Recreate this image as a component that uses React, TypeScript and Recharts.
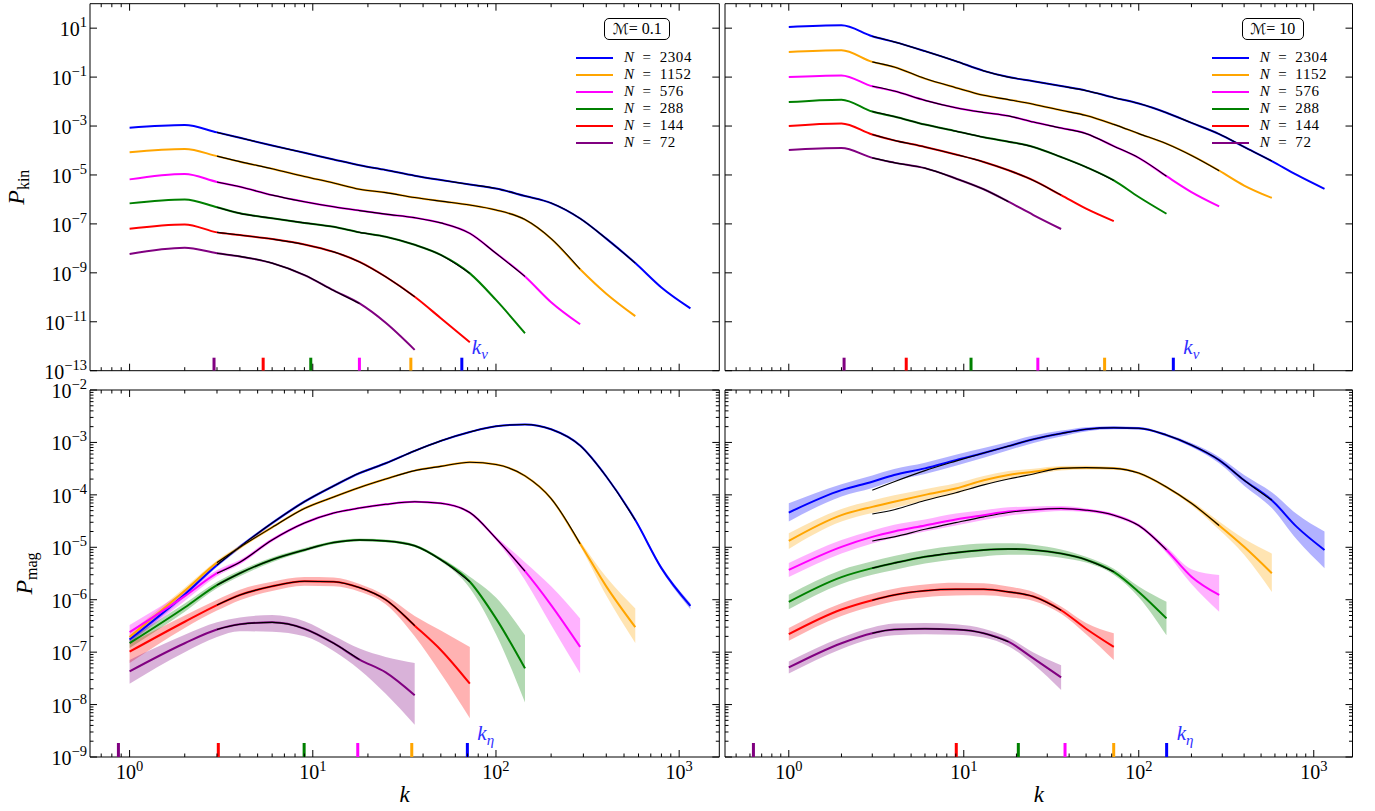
import React from 'react';
import { ComposedChart, Line, Area, Scatter, XAxis, YAxis, Legend } from 'recharts';

const FONT = '"Liberation Serif", "Times New Roman", "DejaVu Serif", serif';

// wavenumber grid
const K = [1, 2, 3, 4, 6, 9, 13, 18, 25, 36, 50, 72, 100, 144, 200, 288, 400, 576, 800, 1152];
const N_RES = [2304, 1152, 576, 288, 144, 72];
const COLORS = ['#0000ff', '#ffa500', '#ff00ff', '#008000', '#ff0000', '#800080'];
const MARKER_COLORS = ['#800080', '#ff0000', '#008000', '#ff00ff', '#ffa500', '#0000ff'];

const X_TICKS_LEFT = [0.7, 0.8, 0.9, 1, 2, 3, 4, 5, 6, 7, 8, 9, 10, 20, 30, 40, 50, 60, 70, 80, 90, 100, 200, 300, 400, 500, 600, 700, 800, 900, 1000];
const X_TICKS_RIGHT = [0.5, 0.6, 0.7, 0.8, 0.9, 1, 2, 3, 4, 5, 6, 7, 8, 9, 10, 20, 30, 40, 50, 60, 70, 80, 90, 100, 200, 300, 400, 500, 600, 700, 800, 900, 1000];
const Y_TICKS_KIN = [1e-13, 1e-11, 1e-9, 1e-7, 1e-5, 1e-3, 1e-1, 10];
const Y_TICKS_MAG = [
  1e-9, 2e-9, 3e-9, 4e-9, 5e-9, 6e-9, 7e-9, 8e-9, 9e-9,
  1e-8, 2e-8, 3e-8, 4e-8, 5e-8, 6e-8, 7e-8, 8e-8, 9e-8,
  1e-7, 2e-7, 3e-7, 4e-7, 5e-7, 6e-7, 7e-7, 8e-7, 9e-7,
  1e-6, 2e-6, 3e-6, 4e-6, 5e-6, 6e-6, 7e-6, 8e-6, 9e-6,
  1e-5, 2e-5, 3e-5, 4e-5, 5e-5, 6e-5, 7e-5, 8e-5, 9e-5,
  1e-4, 2e-4, 3e-4, 4e-4, 5e-4, 6e-4, 7e-4, 8e-4, 9e-4,
  1e-3, 2e-3, 3e-3, 4e-3, 5e-3, 6e-3, 7e-3, 8e-3, 9e-3,
  1e-2,
];

const X_DOMAIN_LEFT: [number, number] = [0.608, 1656];
const X_DOMAIN_RIGHT: [number, number] = [0.432, 1665];
const Y_DOMAIN_KIN: [number, number] = [1e-13, 100];
const Y_DOMAIN_MAG: [number, number] = [1e-9, 1e-2];

// characteristic scales (N = 72 ... 2304)
const K_NU_M01 = [2.89, 5.36, 9.75, 17.97, 34.3, 65.1];
const K_NU_M10 = [2.07, 4.69, 11.0, 26.5, 63.8, 157.6];
const K_ETA_M01 = [0.869, 3.05, 8.97, 17.6, 34.7, 69.8];
const K_ETA_M10 = [0.628, 9.06, 20.5, 37.9, 71.9, 144.3];

// ---- P_kin, M = 0.1
const KIN_M01_N2304 = [8.5e-4, 1.1e-3, 5.5e-4, 3.3e-4, 1.6e-4, 8.1e-5, 4.3e-5, 2.5e-5, 1.6e-5, 9.3e-6, 6.2e-6, 4.1e-6, 2.8e-6, 1.38e-6, 7.1e-7, 1.66e-7, 2.5e-8, 2.5e-9, 2.5e-10, 3.5e-11];
const KIN_M01_N1152 = [8.5e-5, 1.15e-4, 5.9e-5, 3.5e-5, 1.8e-5, 8.7e-6, 4.7e-6, 2.6e-6, 1.9e-6, 1.2e-6, 8.5e-7, 5.9e-7, 3.7e-7, 1.5e-7, 2.5e-8, 1.4e-9, 1.4e-10, 1.7e-11];
const KIN_M01_N576 = [6.6e-6, 1.1e-5, 5.2e-6, 3.3e-6, 1.5e-6, 8.1e-7, 5.0e-7, 3.5e-7, 2.5e-7, 1.8e-7, 1.1e-7, 4.1e-8, 6.3e-9, 7.1e-10, 6.3e-11, 7.9e-12];
const KIN_M01_N288 = [6.9e-7, 1.0e-6, 4.8e-7, 2.7e-7, 1.7e-7, 1.1e-7, 7.6e-8, 4.5e-8, 3.0e-8, 1.4e-8, 5.4e-9, 9.5e-10, 7.8e-11, 3.4e-12];
const KIN_M01_N144 = [6.3e-8, 9.5e-8, 4.5e-8, 3.5e-8, 2.4e-8, 1.45e-8, 7.2e-9, 2.8e-9, 6.9e-10, 1.05e-10, 1.4e-11, 1.45e-12];
const KIN_M01_N72 = [5.9e-9, 1.07e-8, 6.3e-9, 4.7e-9, 2.5e-9, 8.1e-10, 1.9e-10, 5.6e-11, 9.1e-12, 7.1e-13];

// ---- P_kin, M = 10
const KIN_M10_N2304 = [11.2, 13.2, 4.7, 2.75, 1.15, 0.45, 0.18, 0.1, 0.068, 0.043, 0.028, 0.0145, 0.0083, 0.0035, 0.00135, 4.7e-4, 1.4e-4, 3.7e-5, 1.0e-5, 2.7e-6];
const KIN_M10_N1152 = [1.07, 1.26, 0.42, 0.26, 0.087, 0.037, 0.018, 0.012, 0.0078, 0.0044, 0.0027, 0.00117, 4.9e-4, 1.9e-4, 6.3e-5, 1.5e-5, 3.7e-6, 1.15e-6];
const KIN_M10_N576 = [0.1, 0.117, 0.042, 0.027, 0.0112, 0.0056, 0.0036, 0.0026, 0.00145, 8.3e-4, 4.9e-4, 1.5e-4, 5.0e-5, 8.9e-6, 2.0e-6, 5.2e-7];
const KIN_M10_N288 = [0.0095, 0.012, 0.0039, 0.00245, 0.00115, 6.2e-4, 3.5e-4, 2.3e-4, 1.4e-4, 5.4e-5, 2.1e-5, 6.0e-6, 1.26e-6, 2.6e-7];
const KIN_M10_N144 = [1.0e-3, 1.26e-3, 4.5e-4, 2.6e-4, 1.4e-4, 6.9e-5, 3.4e-5, 1.55e-5, 6.0e-6, 1.5e-6, 4.2e-7, 1.3e-7];
const KIN_M10_N72 = [1.05e-4, 1.26e-4, 5.0e-5, 3.2e-5, 1.9e-5, 7.2e-6, 2.6e-6, 8.1e-7, 2.3e-7, 6.2e-8];

// ---- P_mag, M = 0.1 (mean, lower, upper)
const MAG_M01_N2304 = [1.74e-7, 1.26e-6, 4.6e-6, 1.02e-5, 2.9e-5, 7.4e-5, 1.48e-4, 2.6e-4, 4.0e-4, 6.9e-4, 1.07e-3, 1.58e-3, 2.04e-3, 2.2e-3, 1.78e-3, 8.7e-4, 2.24e-4, 3.3e-5, 4.0e-6, 7.6e-7];
const MAG_M01_N2304_LO = [1.5e-7, 1.13e-6, 4.2e-6, 9.4e-6, 2.7e-5, 6.9e-5, 1.39e-4, 2.45e-4, 3.8e-4, 6.6e-4, 1.03e-3, 1.52e-3, 1.97e-3, 2.13e-3, 1.72e-3, 8.4e-4, 2.15e-4, 3.1e-5, 3.7e-6, 6.6e-7];
const MAG_M01_N2304_HI = [2.0e-7, 1.4e-6, 5.0e-6, 1.1e-5, 3.1e-5, 7.9e-5, 1.58e-4, 2.75e-4, 4.2e-4, 7.2e-4, 1.11e-3, 1.64e-3, 2.11e-3, 2.27e-3, 1.84e-3, 9.0e-4, 2.33e-4, 3.5e-5, 4.4e-6, 8.6e-7];
const MAG_M01_N1152 = [1.95e-7, 1.48e-6, 5.1e-6, 1.0e-5, 2.4e-5, 5.5e-5, 9.1e-5, 1.38e-4, 2.0e-4, 2.9e-4, 3.5e-4, 4.2e-4, 3.8e-4, 2.3e-4, 8.5e-5, 1.17e-5, 1.8e-6, 3.0e-7];
const MAG_M01_N1152_LO = [1.6e-7, 1.3e-6, 4.6e-6, 9.2e-6, 2.25e-5, 5.2e-5, 8.7e-5, 1.32e-4, 1.92e-4, 2.8e-4, 3.4e-4, 4.08e-4, 3.7e-4, 2.22e-4, 8.1e-5, 1.06e-5, 1.2e-6, 1.5e-7];
const MAG_M01_N1152_HI = [2.35e-7, 1.7e-6, 5.6e-6, 1.09e-5, 2.55e-5, 5.8e-5, 9.5e-5, 1.44e-4, 2.08e-4, 3.0e-4, 3.6e-4, 4.32e-4, 3.9e-4, 2.38e-4, 8.9e-5, 1.3e-5, 2.7e-6, 6.8e-7];
const MAG_M01_N576 = [2.4e-7, 1.17e-6, 3.2e-6, 5.2e-6, 1.38e-5, 2.9e-5, 4.5e-5, 5.6e-5, 6.6e-5, 7.4e-5, 6.9e-5, 4.6e-5, 1.48e-5, 3.5e-6, 7.9e-7, 1.26e-7];
const MAG_M01_N576_LO = [1.48e-7, 9.5e-7, 2.8e-6, 4.7e-6, 1.28e-5, 2.75e-5, 4.3e-5, 5.35e-5, 6.3e-5, 7.1e-5, 6.6e-5, 4.4e-5, 1.38e-5, 2.35e-6, 3.3e-7, 3.9e-8];
const MAG_M01_N576_HI = [3.3e-7, 1.45e-6, 3.7e-6, 5.8e-6, 1.49e-5, 3.05e-5, 4.7e-5, 5.85e-5, 6.9e-5, 7.7e-5, 7.2e-5, 4.8e-5, 1.6e-5, 5.2e-6, 1.8e-6, 4.4e-7];
const MAG_M01_N288 = [1.48e-7, 7.1e-7, 1.9e-6, 3.2e-6, 5.8e-6, 8.9e-6, 1.23e-5, 1.38e-5, 1.32e-5, 1.07e-5, 5.8e-6, 2.2e-6, 4.4e-7, 4.9e-8];
const MAG_M01_N288_LO = [1.2e-7, 5.9e-7, 1.65e-6, 2.8e-6, 5.2e-6, 8.2e-6, 1.15e-5, 1.3e-5, 1.25e-5, 1.01e-5, 5.4e-6, 1.66e-6, 2.2e-7, 1.1e-8];
const MAG_M01_N288_HI = [1.8e-7, 8.5e-7, 2.2e-6, 3.6e-6, 6.4e-6, 9.7e-6, 1.32e-5, 1.47e-5, 1.4e-5, 1.13e-5, 6.3e-6, 2.75e-6, 1.1e-6, 2.1e-7];
const MAG_M01_N144 = [1.02e-7, 3.8e-7, 7.9e-7, 1.23e-6, 1.8e-6, 2.25e-6, 2.2e-6, 1.7e-6, 1.0e-6, 3.2e-7, 1.1e-7, 2.5e-8];
const MAG_M01_N144_LO = [6.2e-8, 2.9e-7, 6.2e-7, 9.8e-7, 1.47e-6, 1.85e-6, 1.8e-6, 1.42e-6, 8.2e-7, 2.0e-7, 3.9e-8, 5.5e-9];
const MAG_M01_N144_HI = [1.48e-7, 5.0e-7, 1.0e-6, 1.55e-6, 2.2e-6, 2.7e-6, 2.65e-6, 2.0e-6, 1.2e-6, 4.9e-7, 2.6e-7, 1.26e-7];
const MAG_M01_N72 = [4.3e-8, 1.48e-7, 2.7e-7, 3.4e-7, 3.7e-7, 2.8e-7, 1.48e-7, 7.2e-8, 4.1e-8, 1.5e-8];
const MAG_M01_N72_LO = [2.5e-8, 1.0e-7, 1.95e-7, 2.5e-7, 2.45e-7, 2.0e-7, 1.05e-7, 4.6e-8, 1.6e-8, 4.1e-9];
const MAG_M01_N72_HI = [7.1e-8, 2.15e-7, 3.7e-7, 4.6e-7, 5.1e-7, 3.9e-7, 2.05e-7, 1.17e-7, 8.1e-8, 6.2e-8];

// ---- P_mag, M = 10 (mean, lower, upper)
const MAG_M10_N2304 = [4.6e-5, 1.23e-4, 1.78e-4, 2.4e-4, 3.2e-4, 4.6e-4, 6.3e-4, 8.5e-4, 1.15e-3, 1.48e-3, 1.78e-3, 1.9e-3, 1.86e-3, 1.38e-3, 8.9e-4, 4.6e-4, 1.9e-4, 7.9e-5, 2.45e-5, 8.9e-6];
const MAG_M10_N2304_LO = [3.1e-5, 9.3e-5, 1.35e-4, 1.85e-4, 2.5e-4, 3.6e-4, 5.1e-4, 7.1e-4, 9.8e-4, 1.3e-3, 1.62e-3, 1.78e-3, 1.76e-3, 1.3e-3, 8.2e-4, 4.0e-4, 1.5e-4, 5.6e-5, 1.4e-5, 4.0e-6];
const MAG_M10_N2304_HI = [6.9e-5, 1.6e-4, 2.35e-4, 3.1e-4, 4.1e-4, 5.8e-4, 7.8e-4, 1.02e-3, 1.35e-3, 1.68e-3, 1.95e-3, 2.03e-3, 1.97e-3, 1.46e-3, 9.7e-4, 5.3e-4, 2.4e-4, 1.12e-4, 4.3e-5, 2.0e-5];
const MAG_M10_N1152 = [1.32e-5, 4.1e-5, 5.9e-5, 7.4e-5, 1.0e-4, 1.32e-4, 1.9e-4, 2.4e-4, 2.75e-4, 3.2e-4, 3.3e-4, 3.2e-4, 2.6e-4, 1.41e-4, 6.9e-5, 2.6e-5, 1.02e-5, 3.2e-6];
const MAG_M10_N1152_LO = [9.3e-6, 3.1e-5, 4.5e-5, 5.6e-5, 7.8e-5, 1.05e-4, 1.55e-4, 2.0e-4, 2.4e-4, 2.9e-4, 3.05e-4, 3.0e-4, 2.45e-4, 1.32e-4, 6.3e-5, 2.15e-5, 7.2e-6, 1.4e-6];
const MAG_M10_N1152_HI = [1.86e-5, 5.4e-5, 7.8e-5, 9.8e-5, 1.28e-4, 1.66e-4, 2.3e-4, 2.85e-4, 3.15e-4, 3.55e-4, 3.6e-4, 3.4e-4, 2.75e-4, 1.5e-4, 7.6e-5, 3.1e-5, 1.45e-5, 7.6e-6];
const MAG_M10_N576 = [3.7e-6, 1.02e-5, 1.58e-5, 2.0e-5, 2.6e-5, 3.4e-5, 4.1e-5, 4.8e-5, 5.2e-5, 5.5e-5, 5.1e-5, 4.1e-5, 2.6e-5, 8.9e-6, 2.75e-6, 1.23e-6];
const MAG_M10_N576_LO = [2.7e-6, 7.6e-6, 1.18e-5, 1.5e-5, 2.0e-5, 2.6e-5, 3.3e-5, 4.0e-5, 4.5e-5, 4.9e-5, 4.7e-5, 3.8e-5, 2.4e-5, 7.8e-6, 2.0e-6, 5.9e-7];
const MAG_M10_N576_HI = [5.0e-6, 1.38e-5, 2.1e-5, 2.7e-5, 3.4e-5, 4.4e-5, 5.1e-5, 5.8e-5, 6.0e-5, 6.1e-5, 5.5e-5, 4.4e-5, 2.8e-5, 1.02e-5, 3.8e-6, 2.95e-6];
const MAG_M10_N288 = [9.1e-7, 2.7e-6, 4.0e-6, 5.0e-6, 6.6e-6, 7.9e-6, 8.9e-6, 9.3e-6, 8.9e-6, 7.6e-6, 5.8e-6, 3.4e-6, 1.41e-6, 4.4e-7];
const MAG_M10_N288_LO = [6.6e-7, 2.0e-6, 3.0e-6, 3.7e-6, 4.9e-6, 5.9e-6, 6.7e-6, 7.2e-6, 7.1e-6, 6.3e-6, 5.1e-6, 3.0e-6, 1.12e-6, 2.1e-7];
const MAG_M10_N288_HI = [1.25e-6, 3.7e-6, 5.4e-6, 6.8e-6, 8.9e-6, 1.07e-5, 1.18e-5, 1.2e-5, 1.12e-5, 9.1e-6, 6.6e-6, 3.9e-6, 1.78e-6, 9.1e-7];
const MAG_M10_N144 = [2.2e-7, 6.5e-7, 9.8e-7, 1.23e-6, 1.48e-6, 1.58e-6, 1.58e-6, 1.41e-6, 1.15e-6, 6.3e-7, 2.8e-7, 1.26e-7];
const MAG_M10_N144_LO = [1.65e-7, 4.9e-7, 7.4e-7, 9.3e-7, 1.12e-6, 1.2e-6, 1.22e-6, 1.12e-6, 9.5e-7, 5.4e-7, 2.2e-7, 7.1e-8];
const MAG_M10_N144_HI = [2.9e-7, 8.6e-7, 1.3e-6, 1.62e-6, 1.95e-6, 2.1e-6, 2.05e-6, 1.78e-6, 1.4e-6, 7.4e-7, 3.6e-7, 2.3e-7];
const MAG_M10_N72 = [5.1e-8, 1.48e-7, 2.3e-7, 2.7e-7, 2.8e-7, 2.7e-7, 2.3e-7, 1.58e-7, 7.6e-8, 3.3e-8];
const MAG_M10_N72_LO = [3.9e-8, 1.15e-7, 1.8e-7, 2.1e-7, 2.2e-7, 2.15e-7, 1.9e-7, 1.3e-7, 5.9e-8, 1.9e-8];
const MAG_M10_N72_HI = [6.6e-8, 1.9e-7, 2.95e-7, 3.5e-7, 3.6e-7, 3.4e-7, 2.8e-7, 1.9e-7, 9.8e-8, 5.6e-8];

// fitted model curves for M = 10 (start at k = 3)
const FIT_M10_N2304 = [1.23e-4, 1.78e-4, 2.9e-4, 4.4e-4, 6.3e-4, 8.5e-4, 1.15e-3, 1.48e-3, 1.78e-3, 1.9e-3, 1.86e-3, 1.38e-3, 8.9e-4, 4.6e-4, 1.9e-4, 7.9e-5];
const FIT_M10_N1152 = [4.3e-5, 5.2e-5, 7.8e-5, 1.1e-4, 1.55e-4, 2.0e-4, 2.5e-4, 3.2e-4, 3.3e-4, 3.2e-4, 2.6e-4, 1.41e-4, 6.9e-5, 2.6e-5];
const FIT_M10_N576 = [1.32e-5, 1.58e-5, 2.2e-5, 2.95e-5, 3.8e-5, 4.6e-5, 5.2e-5, 5.5e-5, 5.1e-5, 4.1e-5, 2.6e-5, 8.9e-6];

type Pt = { k: number; p: number };
const pts = (vals: number[]): Pt[] => vals.map((p, i) => ({ k: K[i], p }));
const fitFromData = (vals: number[], n: number): Pt[] => pts(vals).filter((d) => d.k >= 3 && d.k <= n / 4);
const fitFromK3 = (vals: number[]): Pt[] => vals.map((p, i) => ({ k: K[i + 2], p }));
const bandPts = (lo: number[], hi: number[]) => lo.map((l, i) => ({ k: K[i], r: [l, hi[i]] }));

function makeTick(side: 'bottom' | 'top' | 'left' | 'right', labeled: boolean) {
  return (props: any) => {
    const { x, y, payload } = props;
    const v = payload.value;
    const lg = Math.log10(v);
    const major = Math.abs(lg - Math.round(lg)) < 1e-6;
    const len = major ? 7 : 3.5;
    let x2 = x;
    let y2 = y;
    if (side === 'bottom') y2 = y - len;
    else if (side === 'top') y2 = y + len;
    else if (side === 'left') x2 = x + len;
    else x2 = x - len;
    const e = Math.round(lg);
    const es = e < 0 ? '\u2212' + Math.abs(e) : String(e);
    return (
      <g>
        <line x1={x} y1={y} x2={x2} y2={y2} stroke="#000" strokeWidth={1} />
        {labeled && major && side === 'bottom' && (
          <text x={x} y={y + 22} textAnchor="middle" fontFamily={FONT} fontSize={20} fill="#000">
            10<tspan dy={-8.5} fontSize={14.5}>{es}</tspan>
          </text>
        )}
        {labeled && major && side === 'left' && (
          <text x={x - 3} y={y + 8} textAnchor="end" fontFamily={FONT} fontSize={20} fill="#000">
            10<tspan dy={-9} fontSize={14.5}>{es}</tspan>
          </text>
        )}
      </g>
    );
  };
}

const LegendBox = ({ title, boxLeft, boxWidth }: { title: string; boxLeft: number; boxWidth: number }) => (
  <div style={{ position: 'relative', width: 150, height: 140, fontFamily: FONT, color: '#000', fontWeight: 400 }}>
    <div
      style={{
        position: 'absolute', left: boxLeft, top: 0, width: boxWidth, height: 22, boxSizing: 'border-box',
        border: '1px solid #000', borderRadius: 5, display: 'flex', alignItems: 'center', justifyContent: 'center',
        fontSize: 16, lineHeight: '18px', whiteSpace: 'nowrap',
      }}
    >
      <span style={{ fontFamily: '"DejaVu Serif", "DejaVu Sans", serif', fontStyle: 'italic', fontSize: 15 }}>{'\u2133'}</span>
      <span>=&nbsp;{title}</span>
    </div>
    {N_RES.map((n, i) => (
      <div key={n} style={{ position: 'absolute', left: 0, top: 32 + i * 17, height: 15, display: 'flex', alignItems: 'center' }}>
        <span style={{ display: 'inline-block', width: 37, height: 2.5, background: COLORS[i] }} />
        <span style={{ marginLeft: 11, fontSize: 15, lineHeight: '15px', whiteSpace: 'nowrap', fontWeight: 400, letterSpacing: 0.6 }}>
          <i>N</i>
          <span style={{ margin: '0 8px' }}>=</span>
          {n}
        </span>
      </div>
    ))}
  </div>
);

type PanelProps = {
  left: number; top: number; width: number; height: number;
  margin: { top: number; right: number; bottom: number; left: number };
  yAxisWidth: number; xAxisHeight: number;
  xDomain: [number, number]; yDomain: [number, number];
  xTicks: number[]; yTicks: number[];
  xLabels: boolean; yLabels: boolean;
  yTitleSub?: string; yTitleX?: number; xTitle?: boolean;
  lines: number[][]; fits: Pt[][]; bands?: { k: number; r: number[] }[][];
  markers: number[]; markerSub: string; markerH: number;
  legend?: { title: string; left: number; top: number; boxLeft: number; boxWidth: number };
};

function Panel(p: PanelProps) {
  const markerData = p.markers.map((k, i) => ({ k, p: p.yDomain[0], c: MARKER_COLORS[i], lbl: i === p.markers.length - 1 }));
  const markerShape = (props: any) => {
    const { cx, cy, payload } = props;
    return (
      <g>
        <rect x={cx - 1.5} y={cy - p.markerH} width={3} height={p.markerH} fill={payload.c} />
        {payload.lbl && (
          <text x={cx + 10} y={cy - 17} fill="#2f2fff" fontFamily={FONT} fontStyle="italic" fontSize={21}>
            k<tspan dy={5} fontSize={15}>{p.markerSub}</tspan>
          </text>
        )}
      </g>
    );
  };
  const yTitle = (props: any) => {
    const vb = props.viewBox;
    const cx = vb.x + (p.yTitleX || 20);
    const cy = vb.y + vb.height / 2;
    return (
      <text transform={`rotate(-90, ${cx}, ${cy})`} x={cx} y={cy} textAnchor="middle" fontFamily={FONT} fill="#000">
        <tspan fontStyle="italic" fontSize={24}>P</tspan>
        <tspan dy={5} fontSize={16}>{p.yTitleSub}</tspan>
      </text>
    );
  };
  const xTitle = (props: any) => {
    const vb = props.viewBox;
    return (
      <text x={vb.x + vb.width / 2} y={vb.y + 45} textAnchor="middle" fontFamily={FONT} fontStyle="italic" fontSize={23} fill="#000">
        k
      </text>
    );
  };
  const common = { xAxisId: 'b', yAxisId: 'l', isAnimationActive: false } as any;
  return (
    <div style={{ position: 'absolute', left: p.left, top: p.top }}>
      <ComposedChart width={p.width} height={p.height} margin={p.margin}>
        <XAxis
          xAxisId="b" dataKey="k" type="number" scale="log" domain={p.xDomain} allowDataOverflow
          ticks={p.xTicks} interval={0} tickSize={0} tickMargin={0} tickLine={false}
          tick={makeTick('bottom', p.xLabels)} height={p.xAxisHeight} axisLine={{ stroke: '#000' }}
          label={p.xTitle ? xTitle : undefined}
        />
        <XAxis
          xAxisId="t" orientation="top" mirror dataKey="k" type="number" scale="log" domain={p.xDomain} allowDataOverflow
          ticks={p.xTicks} interval={0} tickSize={0} tickMargin={0} tickLine={false}
          tick={makeTick('top', false)} axisLine={{ stroke: '#000' }}
        />
        <YAxis
          yAxisId="l" type="number" scale="log" domain={p.yDomain} allowDataOverflow
          ticks={p.yTicks} interval={0} tickSize={0} tickMargin={0} tickLine={false}
          tick={makeTick('left', p.yLabels)} width={p.yAxisWidth} axisLine={{ stroke: '#000' }}
          label={p.yTitleSub ? yTitle : undefined}
        />
        <YAxis
          yAxisId="r" orientation="right" mirror type="number" scale="log" domain={p.yDomain} allowDataOverflow
          ticks={p.yTicks} interval={0} tickSize={0} tickMargin={0} tickLine={false}
          tick={makeTick('right', false)} axisLine={{ stroke: '#000' }}
        />
        {(p.bands || []).map((b, i) => (
          <Area key={'b' + i} {...common} data={b} dataKey="r" type="monotone" stroke="none" fill={COLORS[i]} fillOpacity={0.3} activeDot={false} />
        ))}
        {p.lines.map((vals, i) => (
          <Line key={'l' + i} {...common} data={pts(vals)} dataKey="p" type="monotone" stroke={COLORS[i]} strokeWidth={2} dot={false} activeDot={false} />
        ))}
        {p.fits.map((f, i) => (
          <Line key={'f' + i} {...common} data={f} dataKey="p" type="monotone" stroke="#000" strokeWidth={1.1} dot={false} activeDot={false} />
        ))}
        <Scatter {...common} data={markerData} dataKey="p" shape={markerShape} />
        {p.legend && (
          <Legend
            layout="vertical" align="center" verticalAlign="middle"
            wrapperStyle={{ left: p.legend.left, top: p.legend.top, width: 150, height: 140 }}
            content={() => <LegendBox title={p.legend!.title} boxLeft={p.legend!.boxLeft} boxWidth={p.legend!.boxWidth} />}
          />
        )}
      </ComposedChart>
    </div>
  );
}

export default function App() {
  const kinM01 = [KIN_M01_N2304, KIN_M01_N1152, KIN_M01_N576, KIN_M01_N288, KIN_M01_N144, KIN_M01_N72];
  const kinM10 = [KIN_M10_N2304, KIN_M10_N1152, KIN_M10_N576, KIN_M10_N288, KIN_M10_N144, KIN_M10_N72];
  const magM01 = [MAG_M01_N2304, MAG_M01_N1152, MAG_M01_N576, MAG_M01_N288, MAG_M01_N144, MAG_M01_N72];
  const magM10 = [MAG_M10_N2304, MAG_M10_N1152, MAG_M10_N576, MAG_M10_N288, MAG_M10_N144, MAG_M10_N72];
  const bandsM01 = [
    bandPts(MAG_M01_N2304_LO, MAG_M01_N2304_HI), bandPts(MAG_M01_N1152_LO, MAG_M01_N1152_HI),
    bandPts(MAG_M01_N576_LO, MAG_M01_N576_HI), bandPts(MAG_M01_N288_LO, MAG_M01_N288_HI),
    bandPts(MAG_M01_N144_LO, MAG_M01_N144_HI), bandPts(MAG_M01_N72_LO, MAG_M01_N72_HI),
  ];
  const bandsM10 = [
    bandPts(MAG_M10_N2304_LO, MAG_M10_N2304_HI), bandPts(MAG_M10_N1152_LO, MAG_M10_N1152_HI),
    bandPts(MAG_M10_N576_LO, MAG_M10_N576_HI), bandPts(MAG_M10_N288_LO, MAG_M10_N288_HI),
    bandPts(MAG_M10_N144_LO, MAG_M10_N144_HI), bandPts(MAG_M10_N72_LO, MAG_M10_N72_HI),
  ];
  const fitsKinM01 = kinM01.map((v, i) => fitFromData(v, N_RES[i]));
  const fitsKinM10 = kinM10.map((v, i) => fitFromData(v, N_RES[i]));
  const fitsMagM01 = magM01.map((v, i) => fitFromData(v, N_RES[i]));
  const fitsMagM10 = [
    fitFromK3(FIT_M10_N2304), fitFromK3(FIT_M10_N1152), fitFromK3(FIT_M10_N576),
    fitFromData(MAG_M10_N288, 288), fitFromData(MAG_M10_N144, 144), fitFromData(MAG_M10_N72, 72),
  ];

  return (
    <div style={{ position: 'absolute', left: 0, top: 0, width: 1375, height: 811, background: '#fff', overflow: 'hidden' }}>
      <Panel
        left={0} top={0} width={720} height={392}
        margin={{ top: 3.7, right: 0.7, bottom: 0, left: 0 }} yAxisWidth={90} xAxisHeight={21.3}
        xDomain={X_DOMAIN_LEFT} yDomain={Y_DOMAIN_KIN} xTicks={X_TICKS_LEFT} yTicks={Y_TICKS_KIN}
        xLabels={false} yLabels={true} yTitleSub="kin" yTitleX={24}
        lines={kinM01} fits={fitsKinM01}
        markers={K_NU_M01} markerSub={'\u03bd'} markerH={13}
        legend={{ title: '0.1', left: 576, top: 18.3, boxLeft: 28.3, boxWidth: 66 }}
      />
      <Panel
        left={720} top={0} width={640} height={392}
        margin={{ top: 3.7, right: 7.5, bottom: 0, left: 0 }} yAxisWidth={5} xAxisHeight={21.3}
        xDomain={X_DOMAIN_RIGHT} yDomain={Y_DOMAIN_KIN} xTicks={X_TICKS_RIGHT} yTicks={Y_TICKS_KIN}
        xLabels={false} yLabels={false}
        lines={kinM10} fits={fitsKinM10}
        markers={K_NU_M10} markerSub={'\u03bd'} markerH={13}
        legend={{ title: '10', left: 491.7, top: 18.3, boxLeft: 30, boxWidth: 62 }}
      />
      <Panel
        left={0} top={370} width={720} height={441}
        margin={{ top: 20, right: 0.7, bottom: 0, left: 0 }} yAxisWidth={90} xAxisHeight={54}
        xDomain={X_DOMAIN_LEFT} yDomain={Y_DOMAIN_MAG} xTicks={X_TICKS_LEFT} yTicks={Y_TICKS_MAG}
        xLabels={true} yLabels={true} yTitleSub="mag" yTitleX={32} xTitle={true}
        lines={magM01} fits={fitsMagM01} bands={bandsM01}
        markers={K_ETA_M01} markerSub={'\u03b7'} markerH={14}
      />
      <Panel
        left={720} top={370} width={640} height={441}
        margin={{ top: 20, right: 7.5, bottom: 0, left: 0 }} yAxisWidth={5} xAxisHeight={54}
        xDomain={X_DOMAIN_RIGHT} yDomain={Y_DOMAIN_MAG} xTicks={X_TICKS_RIGHT} yTicks={Y_TICKS_MAG}
        xLabels={true} yLabels={false} xTitle={true}
        lines={magM10} fits={fitsMagM10} bands={bandsM10}
        markers={K_ETA_M10} markerSub={'\u03b7'} markerH={14}
      />
    </div>
  );
}
